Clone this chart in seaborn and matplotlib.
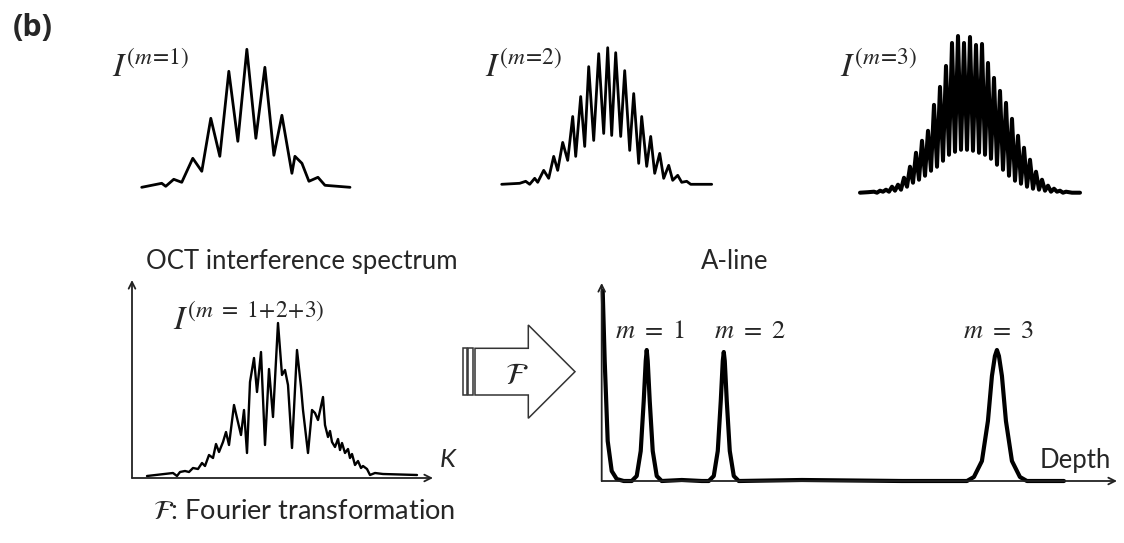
import matplotlib
matplotlib.use("Agg")
import matplotlib.pyplot as plt
import seaborn as sns
from matplotlib.patches import Polygon, Rectangle

# === DATOS ===
# I(m=1): K (u.a.) e intensidad (u.a.)
k_m1 = [0, 20, 24, 32, 40, 51, 60, 69, 78, 87, 96, 105, 114, 123, 132, 140, 150, 153, 160, 167, 176, 183, 208]
i_m1 = [0, 4, 1, 8, 5, 29, 16, 69, 31, 116, 46, 138, 49, 120, 32, 72, 14, 31, 24, 6, 10, 2, 0]

# I(m=2)
k_m2 = [0, 18, 24, 28, 33, 36, 42, 47, 52, 56, 61, 66, 71, 74, 79, 83, 87, 92, 97, 102,
        106, 110, 114, 119, 123, 128, 132, 137, 140, 145, 149, 153, 158, 162, 167, 171, 176, 180, 185, 189, 210]
i_m2 = [0, 1, 3, 0, 6, 2, 14, 6, 28, 14, 42, 24, 68, 28, 88, 38, 118, 44, 131, 51,
        137, 49, 132, 48, 114, 34, 91, 21, 68, 18, 48, 11, 31, 6, 19, 4, 9, 2, 3, 0, 0]

# I(m=3)
k_m3 = [0, 8, 14, 17, 20, 23, 26, 29, 32, 35, 38, 41, 44, 47, 50, 53, 56, 59, 62, 65,
        68, 71, 74, 77, 80, 83, 86, 89, 92, 95, 98, 101, 104, 107, 110, 113, 116, 119, 122, 125,
        128, 131, 134, 137, 140, 143, 146, 149, 152, 155, 158, 161, 164, 167, 170, 173, 176, 179, 182, 185,
        188, 191, 194, 197, 200, 203, 206, 212, 220]
i_m3 = [0, 0.5, 1, 0, 2, 1, 3, 1, 6, 2, 8, 3, 15, 6, 26, 10, 40, 13, 52, 17,
        62, 22, 88, 26, 106, 32, 127, 38, 150, 41, 157, 43, 150, 43, 156, 42, 148, 40, 149, 38,
        130, 34, 115, 28, 102, 23, 90, 17, 74, 12, 57, 9, 45, 6, 33, 4, 21, 3, 13, 2,
        7, 1, 4, 1, 2, 0, 1, 0, 0]

# I(m=1+2+3): espectro de interferencia OCT
k_mix = [0, 26, 30, 33, 38, 42, 46, 51, 55, 58, 62, 66, 69, 72, 76, 79, 82, 87, 90, 94,
         97, 100, 103, 107, 110, 114, 118, 122, 126, 131, 135, 138, 141, 145, 150, 154, 156, 161, 165, 168,
         171, 176, 178, 181, 183, 185, 188, 191, 193, 195, 198, 201, 203, 205, 208, 211, 214, 216, 220, 223,
         228, 236, 270]
i_mix = [1, 4, 1, 5, 6, 5, 9, 8, 14, 11, 22, 19, 33, 25, 35, 45, 32, 72, 59, 42,
         67, 24, 95, 119, 85, 125, 32, 108, 60, 154, 102, 107, 92, 29, 127, 90, 67, 24, 67, 64,
         57, 80, 52, 40, 46, 35, 30, 38, 27, 34, 24, 28, 19, 23, 12, 16, 9, 11, 8, 2,
         4, 3, 2]

# A-line: profundidad (u.a.) e intensidad (u.a.)
depth = [1, 3, 6, 10, 15, 22,
         30, 35, 39, 42, 44, 45, 46, 48, 51, 55, 60,
         80, 100,
         107, 112, 116, 119, 121, 122, 123, 125, 128, 132, 137,
         200, 300, 365,
         372, 380, 386, 390, 393, 395, 397, 400, 404, 410, 418, 425, 462]
a_line = [190, 120, 40, 10, 2, 0,
          0, 5, 30, 80, 120, 131, 120, 80, 30, 5, 0,
          1, 0,
          0, 5, 30, 80, 120, 129, 120, 80, 30, 5, 0,
          1, 0, 0,
          4, 20, 60, 105, 125, 131, 125, 105, 60, 20, 4, 0, 0]

peak_labels = [r"$m\ =\ 1$", r"$m\ =\ 2$", r"$m\ =\ 3$"]

# === CONFIGURACIÓN ===
sns.set_theme(style="white")
plt.rcParams["font.family"] = ["Lato", "DejaVu Sans"]
plt.rcParams["mathtext.fontset"] = "stix"

W, H = 1124, 543
fig = plt.figure(figsize=(W / 100, H / 100), dpi=100)


def rect(l, t, r, b):
    return [l / W, 1 - b / H, (r - l) / W, (b - t) / H]


def txt(x, y, s, **kw):
    fig.text(x / W, 1 - y / H, s, **kw)


def curve(ax, x, y, lw):
    sns.lineplot(x=x, y=y, ax=ax, color="black", linewidth=lw, estimator=None,
                 sort=False, clip_on=False)
    ax.set_axis_off()


# === FIGURA: señales individuales ===
ax1 = fig.add_axes(rect(141.7, 49.3, 350, 187.3))
curve(ax1, k_m1, i_m1, 2.0)
ax1.set_xlim(0, 208)
ax1.set_ylim(0, 138)

ax2 = fig.add_axes(rect(501.7, 47.7, 711.7, 184.3))
curve(ax2, k_m2, i_m2, 2.0)
ax2.set_xlim(0, 210)
ax2.set_ylim(0, 137)

ax3 = fig.add_axes(rect(860, 36, 1080, 192.7))
curve(ax3, k_m3, i_m3, 2.9)
ax3.set_xlim(0, 220)
ax3.set_ylim(0, 157)

# === Espectro combinado ===
ax4 = fig.add_axes(rect(132, 280, 433, 478))
curve(ax4, k_mix, i_mix, 1.7)
ax4.set_xlim(-15, 286)
ax4.set_ylim(-1, 197)

# === A-line ===
ax5 = fig.add_axes(rect(601.7, 283, 1117, 481))
curve(ax5, depth, a_line, 3.0)
ax5.set_xlim(0, 515)
ax5.set_ylim(0, 198)

for ax in (ax4, ax5):
    arrow = dict(arrowstyle="->", color="#222222", lw=1.3, mutation_scale=12, shrinkA=0, shrinkB=0)
    ax.annotate("", xy=(0, 1), xytext=(0, 0), xycoords="axes fraction", arrowprops=arrow)
    ax.annotate("", xy=(1, 0), xytext=(0, 0), xycoords="axes fraction", arrowprops=arrow)

# === Flecha de la transformada ===
ov = fig.add_axes([0, 0, 1, 1], zorder=-1)
ov.set_xlim(0, W)
ov.set_ylim(H, 0)
ov.set_axis_off()
ov.add_patch(Polygon([(475, 348.3), (528.3, 348.3), (528.3, 325), (575, 371.7),
                      (528.3, 418.3), (528.3, 395), (475, 395)],
                     closed=True, facecolor="white", edgecolor="#333333", lw=1.1))
ov.add_patch(Rectangle((462.7, 348.3), 4, 46.7, facecolor="white", edgecolor="#333333", lw=1.1))
ov.add_patch(Rectangle((468.3, 348.3), 5, 46.7, facecolor="white", edgecolor="#333333", lw=1.1))

# === TEXTOS ===
fig.text(13 / W, 1 - 28 / H, "(b)", fontsize=22, fontweight="bold", va="center", ha="left",
         family=["Open Sans", "DejaVu Sans"])
txt(112, 77, r"$I^{(m\!=\!1)}$", fontsize=24, va="baseline", ha="left")
txt(485, 77, r"$I^{(m\!=\!2)}$", fontsize=24, va="baseline", ha="left")
txt(840, 77, r"$I^{(m\!=\!3)}$", fontsize=24, va="baseline", ha="left")
txt(173, 330, r"$I^{(m\ =\ 1\!+\!2\!+\!3)}$", fontsize=24, va="baseline", ha="left")
txt(302, 269, "OCT interference spectrum", fontsize=18.5, va="baseline", ha="center")
txt(735, 269, "A-line", fontsize=18.5, va="baseline", ha="center")
txt(440, 467, "K", fontsize=18.5, fontstyle="italic", va="baseline", ha="left")
txt(1040, 468, "Depth", fontsize=18.5, va="baseline", ha="left")
for x, lab in zip([650, 750, 998], peak_labels):
    txt(x, 338, lab, fontsize=19, va="baseline", ha="center")
txt(516.7, 375, r"$\mathcal{F}$", fontsize=22, va="center", ha="center")
txt(153, 519, r"$\mathcal{F}$: Fourier transformation", fontsize=19.5, va="baseline", ha="left")

fig.savefig("out.png", dpi=100)
plt.close(fig)
